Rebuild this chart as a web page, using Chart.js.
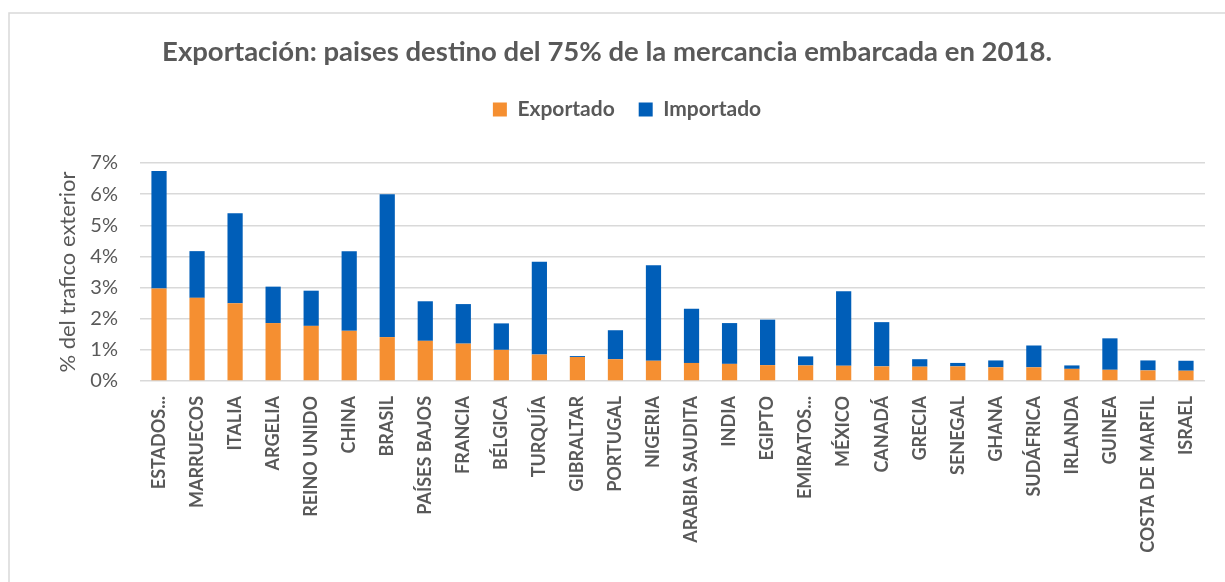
<!DOCTYPE html>
<html>
<head>
<meta charset="utf-8">
<script src="https://cdn.jsdelivr.net/npm/chart.js@4"></script>
<style>
  html, body { margin: 0; padding: 0; background: #fff; }
  #wrap { width: 1225px; height: 582px; }
</style>
</head>
<body>
<div id="wrap"><canvas id="myChart" width="1225" height="582"></canvas></div>
<script>
// Countries (as shown on the axis)
const paises = ['ESTADOS...', 'MARRUECOS', 'ITALIA', 'ARGELIA', 'REINO UNIDO', 'CHINA', 'BRASIL',
    'PAÍSES BAJOS', 'FRANCIA', 'BÉLGICA', 'TURQUÍA', 'GIBRALTAR', 'PORTUGAL', 'NIGERIA',
    'ARABIA SAUDITA', 'INDIA', 'EGIPTO', 'EMIRATOS...', 'MÉXICO', 'CANADÁ', 'GRECIA', 'SENEGAL',
    'GHANA', 'SUDÁFRICA', 'IRLANDA', 'GUINEA', 'COSTA DE MARFIL', 'ISRAEL'];

// % of foreign traffic
const exportado = [2.97, 2.67, 2.50, 1.86, 1.77, 1.61, 1.41, 1.29, 1.20, 1.00, 0.85, 0.77, 0.70, 0.65,
    0.58, 0.55, 0.51, 0.50, 0.49, 0.47, 0.46, 0.47, 0.44, 0.44, 0.39, 0.36, 0.34, 0.33];
const importado = [3.77, 1.50, 2.89, 1.17, 1.13, 2.56, 4.59, 1.27, 1.27, 0.85, 2.98, 0.03, 0.93, 3.07,
    1.74, 1.31, 1.46, 0.29, 2.39, 1.42, 0.24, 0.11, 0.22, 0.70, 0.11, 1.01, 0.32, 0.32];

const yTicks = [0, 1, 2, 3, 4, 5, 6, 7];

const textColor = '#595959';
const gridColor = '#d9d9d9';

// light frame around the chart + title/legend placement like the Excel original
const frame = {
    id: 'frame',
    beforeDraw(chart) {
        const c = chart.ctx;
        c.save();
        c.strokeStyle = '#d9d9d9';
        c.lineWidth = 1.5;
        c.strokeRect(9, 13, 1300, 700);
        c.restore();
    },
    afterLayout(chart) {
        const tb = chart.titleBlock;
        const th = tb.bottom - tb.top;
        tb.top = 0;
        tb.bottom = th;

        const lg = chart.legend;
        const lh = lg.bottom - lg.top;
        lg.top = 75;
        lg.bottom = 75 + lh;
        lg.left += 20;
        lg.right += 20;
    }
};

const ctx = document.getElementById('myChart').getContext('2d');

const chart = new Chart(ctx, {
    type: 'bar',
    data: {
        labels: paises,
        datasets: [
            {
                label: 'Exportado',
                data: exportado,
                backgroundColor: '#f58f31',
                borderWidth: 0,
                barPercentage: 0.4,
                categoryPercentage: 1
            },
            {
                label: 'Importado',
                data: importado,
                backgroundColor: '#005eb8',
                borderWidth: 0,
                barPercentage: 0.4,
                categoryPercentage: 1
            }
        ]
    },
    plugins: [frame],
    options: {
        responsive: false,
        animation: false,
        layout: { padding: { left: 9, right: 20, top: 0, bottom: 0 } },
        scales: {
            x: {
                stacked: true,
                grid: { display: false, drawTicks: false },
                border: { display: false },
                ticks: {
                    color: textColor,
                    font: { family: 'Lato', size: 18, weight: 'bold' },
                    minRotation: 90,
                    maxRotation: 90,
                    autoSkip: false,
                    padding: 15
                },
                afterFit: function (scale) {
                    scale.height = 201;
                }
            },
            y: {
                stacked: true,
                min: 0,
                max: 7,
                afterBuildTicks: function (scale) {
                    scale.ticks = yTicks.map(v => ({ value: v }));
                },
                grid: { color: gridColor, lineWidth: 1.5, drawTicks: false },
                border: { display: false },
                ticks: {
                    color: textColor,
                    font: { family: 'Lato', size: 20 },
                    padding: 22,
                    callback: v => v + '%'
                },
                title: {
                    display: true,
                    text: '% del trafico exterior',
                    color: textColor,
                    font: { family: 'Lato', size: 22 },
                    padding: { top: 46, bottom: 0 }
                },
                afterFit: function (scale) {
                    scale.width = 131;
                    scale.paddingTop = 163;
                }
            }
        },
        plugins: {
            title: {
                display: true,
                text: 'Exportación: paises destino del 75% de la mercancia embarcada en 2018.',
                color: textColor,
                font: { family: 'Lato', size: 27.5, weight: 'bold' },
                padding: { top: 36, bottom: 10 }
            },
            legend: {
                display: true,
                labels: {
                    color: textColor,
                    font: { family: 'Lato', size: 21, weight: 'bold' },
                    boxWidth: 14,
                    boxHeight: 14,
                    padding: 24
                }
            },
            tooltip: { enabled: false }
        }
    }
});
</script>
</body>
</html>
